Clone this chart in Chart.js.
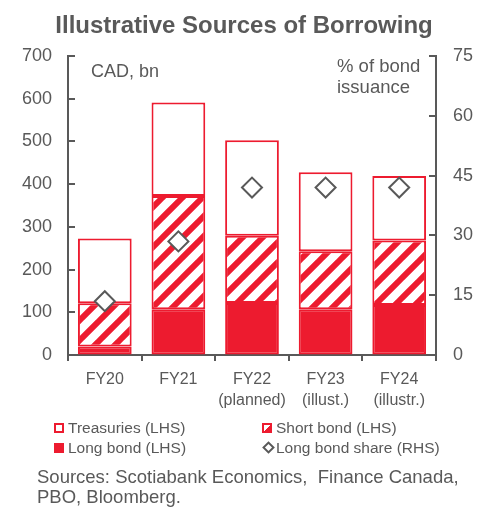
<!DOCTYPE html>
<html>
<head>
<meta charset="utf-8">
<script src="https://cdn.jsdelivr.net/npm/chart.js@4/dist/chart.umd.min.js"></script>
<style>
  html, body { margin: 0; padding: 0; background: #fff; }
  #wrap { position: relative; width: 491px; height: 508px; font-family: "Liberation Sans", Arial, sans-serif; color: #595959; }
  #c { position: absolute; left: 0; top: 0; }
  .t { position: absolute; white-space: nowrap; line-height: 1; }
  #title { left: 0; width: 488px; text-align: center; top: 13px; font-size: 24px; font-weight: bold; color: #595959; }
  .lg { font-size: 15.5px; }
  .box { position: absolute; width: 8px; height: 8px; }
</style>
</head>
<body>
<div id="wrap">
  <canvas id="c" width="491" height="508"></canvas>
  <div class="t" id="title">Illustrative Sources of Borrowing</div>
  <div class="t" style="left:91px; top:62px; font-size:18px;">CAD, bn</div>
  <div class="t" style="left:337px; top:55px; font-size:18.5px; line-height:21px;">% of bond<br>issuance</div>

  <div class="box" style="left:54px; top:423px; border:2px solid #ed1b2f; background:#fff; width:6px; height:6px;"></div>
  <div class="t lg" style="left:68px; top:420px;">Treasuries (LHS)</div>
  <div class="box" style="left:54px; top:443px; background:#ed1b2f; width:10px; height:10px;"></div>
  <div class="t lg" style="left:68px; top:440px;">Long bond (LHS)</div>
  <div class="box" id="shortbox" style="left:262px; top:423px; border:2px solid #ed1b2f; background:linear-gradient(135deg, #fff 0 55%, #ed1b2f 55% 100%); width:6px; height:6px;"></div>
  <div class="t lg" style="left:276px; top:420px;">Short bond (LHS)</div>
  <div class="box" style="left:264px; top:443px; border:2px solid #595959; background:#fff; width:5px; height:5px; transform:rotate(45deg);"></div>
  <div class="t lg" style="left:276px; top:440px;">Long bond share (RHS)</div>

  <div class="t" style="left:37px; top:467px; font-size:18.5px; line-height:20px;">Sources: Scotiabank Economics,&nbsp; Finance Canada,<br>PBO, Bloomberg.</div>
</div>
<script>
const categories = [["FY20"], ["FY21"], ["FY22", "(planned)"], ["FY23", "(illust.)"], ["FY24", "(illustr.)"]];
const longBond = [20, 107, 122, 107, 117];
const shortBond = [101, 265, 157, 136, 151];
const treasuries = [152, 219, 224, 185, 151];
const longBondShare = [13.5, 28.5, 42, 42, 42];
const leftTicks = [0, 100, 200, 300, 400, 500, 600, 700];
const rightTicks = [0, 15, 30, 45, 60, 75];

const RED = '#ed1b2f';
const GREY = '#595959';

function makeStripes() {
  const s = 20;
  const p = document.createElement('canvas');
  p.width = s; p.height = s;
  const g = p.getContext('2d');
  g.fillStyle = '#fff';
  g.fillRect(0, 0, s, s);
  g.strokeStyle = RED;
  g.lineWidth = 6;
  g.beginPath();
  for (let k = -1; k <= 1; k++) {
    g.moveTo(k * s - 2, s + 2);
    g.lineTo(k * s + s + 2, -2);
  }
  g.stroke();
  return document.getElementById('c').getContext('2d').createPattern(p, 'repeat');
}

const innerTicks = {
  id: 'innerTicks',
  afterDraw(chart) {
    const ctx = chart.ctx;
    const y = chart.scales.y, y2 = chart.scales.y2;
    ctx.save();
    ctx.strokeStyle = GREY;
    ctx.lineWidth = 2;
    ctx.beginPath();
    leftTicks.forEach(v => {
      const py = Math.round(y.getPixelForValue(v));
      ctx.moveTo(y.right, py); ctx.lineTo(y.right + 7, py);
    });
    rightTicks.forEach(v => {
      const py = Math.round(y2.getPixelForValue(v));
      ctx.moveTo(y2.left, py); ctx.lineTo(y2.left - 7, py);
    });
    ctx.stroke();
    ctx.restore();
  }
};

const stripes = makeStripes();

new Chart(document.getElementById('c'), {
  data: {
    labels: categories,
    datasets: [
      { type: 'line', label: 'Long bond share (RHS)', data: longBondShare, yAxisID: 'y2', showLine: false,
        pointStyle: 'rectRot', pointRadius: 10, pointHoverRadius: 10, pointBorderWidth: 2,
        borderColor: GREY, backgroundColor: '#fff', order: 0 },
      { type: 'bar', label: 'Long bond (LHS)', data: longBond, yAxisID: 'y', backgroundColor: RED, borderColor: RED, borderWidth: 2, order: 1 },
      { type: 'bar', label: 'Short bond (LHS)', data: shortBond, yAxisID: 'y', backgroundColor: stripes, borderColor: RED, borderWidth: 2, order: 1 },
      { type: 'bar', label: 'Treasuries (LHS)', data: treasuries, yAxisID: 'y', backgroundColor: '#fff', borderColor: RED, borderWidth: 2, order: 1 }
    ]
  },
  options: {
    responsive: false,
    animation: false,
    devicePixelRatio: 1,
    layout: { padding: { top: 56, left: 0, right: 0, bottom: 0 } },
    plugins: { legend: { display: false }, tooltip: { enabled: false }, title: { display: false } },
    datasets: { bar: { categoryPercentage: 1, barPercentage: 0.73, borderSkipped: false } },
    scales: {
      x: {
        stacked: true,
        offset: true,
        grid: { offset: true, drawOnChartArea: false, drawTicks: true, tickLength: 6, color: GREY, lineWidth: 2 },
        border: { display: true, color: GREY, width: 2 },
        ticks: { color: GREY, font: { family: 'Liberation Sans', size: 16, lineHeight: 1.3 }, padding: 8, maxRotation: 0, autoSkip: false },
        afterFit(s) { s.height = 153; }
      },
      y: {
        position: 'left', stacked: true, min: 0, max: 700,
        afterBuildTicks(s) { s.ticks = leftTicks.map(v => ({ value: v })); },
        grid: { drawOnChartArea: false, drawTicks: false },
        border: { display: true, color: GREY, width: 2 },
        ticks: { color: GREY, font: { family: 'Liberation Sans', size: 18 }, padding: 16 },
        afterFit(s) { s.width = 68; }
      },
      y2: {
        position: 'right', min: 0, max: 75,
        afterBuildTicks(s) { s.ticks = rightTicks.map(v => ({ value: v })); },
        grid: { drawOnChartArea: false, drawTicks: false },
        border: { display: true, color: GREY, width: 2 },
        ticks: { color: GREY, font: { family: 'Liberation Sans', size: 18 }, padding: 17 },
        afterFit(s) { s.width = 55; }
      }
    }
  },
  plugins: [innerTicks]
});
</script>
</body>
</html>
